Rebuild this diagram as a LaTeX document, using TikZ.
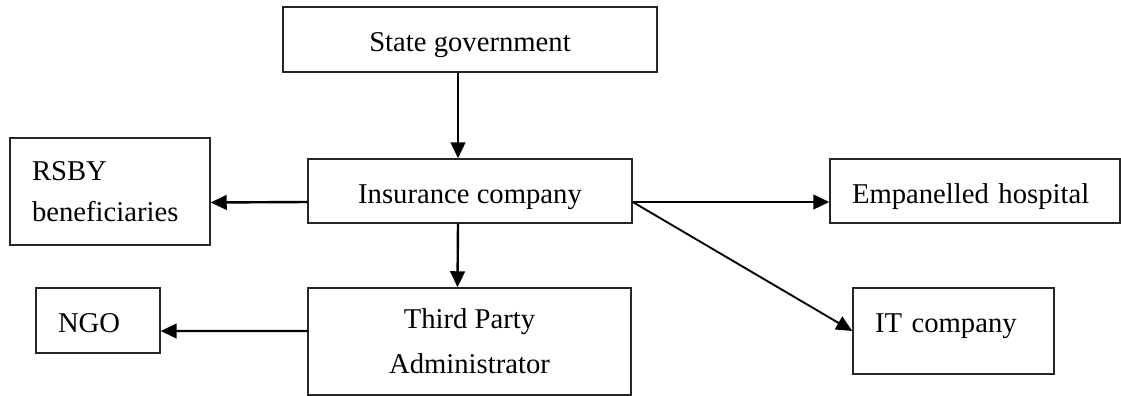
\documentclass[tikz,border=0pt]{standalone}
\usepackage{fontspec}
\setmainfont{Liberation Serif}
\usetikzlibrary{arrows.meta}
\tikzset{>={Triangle[length=12pt,width=11pt]}}
\tikzset{box/.style={draw=black!85, line width=1.1pt, inner xsep=16.5pt, inner ysep=0pt,
  font=\fontsize{21.5}{32}\selectfont}}
\tikzset{leftbox/.style={box, align=left}}
\tikzset{oneline/.style={text height=18pt, text depth=0pt}}
\tikzset{link/.style={->, line width=1.8pt}}

\begin{document}
\begin{tikzpicture}[x=0.75pt, y=-0.75pt]
      \useasboundingbox (0, 0) rectangle (1121, 396);

      \node [box, oneline, minimum width=280.5pt, minimum height=48.75pt] (stategov) at (470, 39.5) {State government};
      \node [box, oneline, minimum width=243pt, minimum height=48pt] (insurance) at (470, 191) {Insurance company};
      \node [leftbox, font=\fontsize{21.5}{31}\selectfont, text width=117pt, minimum width=150pt, minimum height=80.25pt] (rsby) at (110, 191.5) {RSBY\\beneficiaries};
      \node [leftbox, oneline, text width=184.5pt, minimum width=217.5pt, minimum height=48pt] (hospital) at (975, 191) {Empanelled hospital};
      \node [box, align=center, font=\fontsize{21.5}{34}\selectfont, minimum width=242.25pt, minimum height=80.25pt] (tpa) at (469.5, 341.5) {Third Party\\Administrator};
      \node [leftbox, oneline, text width=60pt, minimum width=93pt, minimum height=48.75pt] (ngo) at (98, 320.5) {NGO};
      \node [leftbox, oneline, text depth=16.5pt, text width=117.75pt, minimum width=150.75pt, minimum height=64.5pt] (itco) at (953.5, 331) {IT company};

      \draw [link] ([xshift=-9pt]stategov.south) -- ([xshift=-9pt]insurance.north);
      \draw [link] ([yshift=-8.25pt]insurance.west) -- ([yshift=-8.25pt]rsby.east);
      \draw [link] ([yshift=-8.25pt]insurance.east) -- ([yshift=-8.25pt]hospital.west);
      \draw [link, line width=1.4pt] ([yshift=-8.25pt]insurance.east) -- (itco.west);
      \draw [link] ([xshift=-9pt]insurance.south) -- ([xshift=-9pt]tpa.north);
      \draw [link] ([yshift=7.9pt]tpa.west) -- ([yshift=-7.9pt]ngo.east);
    \end{tikzpicture}
\end{document}
